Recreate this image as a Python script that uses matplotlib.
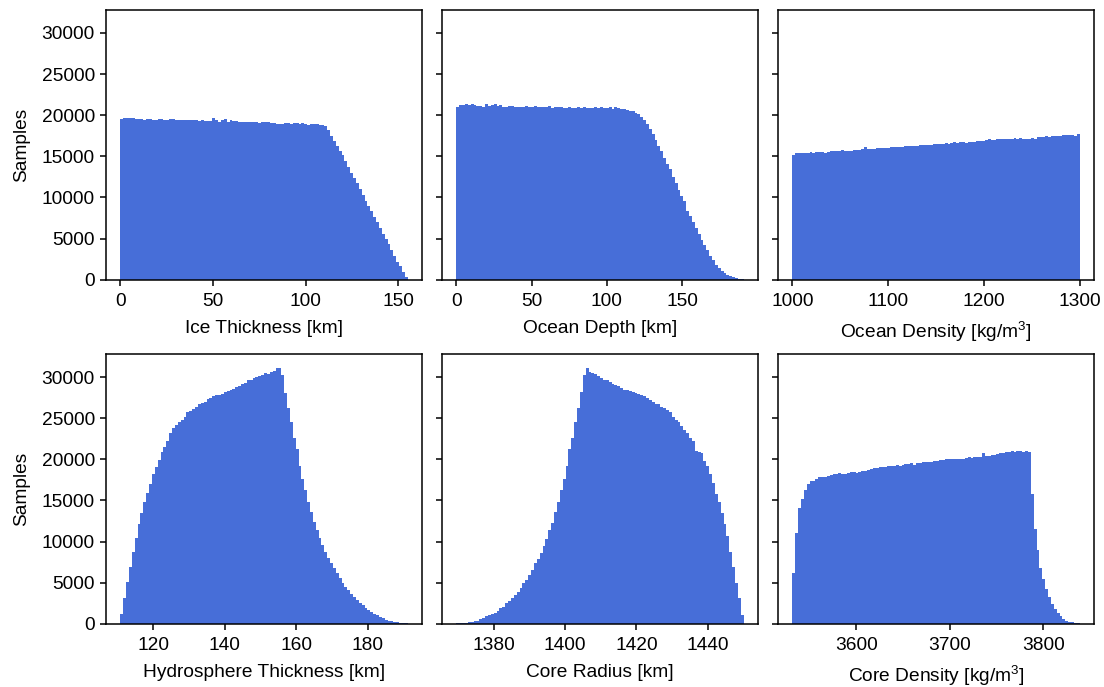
import matplotlib
matplotlib.use("Agg")
import matplotlib.pyplot as plt
import numpy as np

plt.rcParams['font.family'] = ['Liberation Sans', 'DejaVu Sans']
plt.rcParams['mathtext.fontset'] = 'custom'
plt.rcParams['mathtext.rm'] = 'Liberation Sans'
plt.rcParams['font.size'] = 13.8

# (min, max) of each histogram's bins, 100 bins per panel
ice_range = (0.0, 155.0)
ocean_depth_range = (0.0, 191.0)
ocean_density_range = (1000.0, 1300.0)
hydro_range = (110.8, 191.2)
core_radius_range = (1369.5, 1450.1)
core_density_range = (3531.4, 3839.0)

ice_counts = [
    19500, 19650, 19700, 19680, 19600, 19550, 19500, 19520, 19450, 19480,
    19500, 19450, 19420, 19480, 19500, 19460, 19430, 19480, 19520, 19450,
    19400, 19430, 19380, 19450, 19420, 19350, 19380, 19300, 19350, 19320,
    19280, 19300, 19700, 19350, 19150, 19450, 19480, 19200, 19380, 19250,
    19300, 19200, 19150, 19220, 19180, 19130, 19200, 19180, 19100, 19150,
    19200, 19150, 19100, 19050, 18900, 18950, 18920, 19000, 19050, 18980,
    19100, 19050, 18950, 19000, 18980, 18850, 18900, 18870, 18930, 18800,
    18850, 18650, 18200, 17500, 16900, 16300, 15700, 15100, 14400, 13700,
    12950, 12350, 11700, 11000, 10250, 9600, 8900, 8300, 7600, 7000,
    6250, 5600, 4900, 4300, 3550, 2900, 2200, 1600, 950, 300,
]

ocean_depth_counts = [
    21000, 21200, 21250, 21300, 21250, 21350, 21200, 21100, 21150, 21050,
    21300, 21150, 21200, 21350, 21100, 21200, 21000, 21050, 21150, 21100,
    21000, 20950, 21050, 21000, 21100, 21000, 21050, 21150, 21000, 20950,
    21000, 20950, 21100, 20900, 20950, 21050, 21000, 20850, 20900, 20950,
    20900, 20850, 21000, 20900, 20950, 20850, 20900, 20850, 20950, 20900,
    21000, 20850, 20900, 20950, 20800, 21000, 20850, 20700, 20750, 20650,
    20550, 20450, 20300, 20150, 19800, 19400, 18900, 18300, 17700, 17000,
    16300, 15600, 14800, 14100, 13400, 12500, 11700, 10900, 10200, 9600,
    8400, 7700, 7000, 6300, 5600, 4800, 4200, 3600, 2900, 2350,
    1800, 1400, 1050, 800, 600, 430, 300, 170, 90, 30,
]

ocean_density_counts = [
    15150, 15380, 15420, 15400, 15450, 15420, 15480, 15450, 15500, 15480,
    15500, 15420, 15550, 15600, 15620, 15580, 15700, 15750, 15650, 15620,
    15700, 15750, 15720, 15800, 15850, 16080, 15900, 15880, 15920, 15950,
    15950, 16000, 16050, 16020, 16100, 16080, 16150, 16120, 16180, 16200,
    16220, 16250, 16300, 16280, 16350, 16320, 16400, 16380, 16420, 16480,
    16500, 16450, 16550, 16600, 16550, 16650, 16700, 16620, 16680, 16750,
    16650, 16700, 16750, 16700, 16800, 16850, 16900, 16950, 17050, 17000,
    16980, 17050, 17100, 17050, 17150, 17100, 17120, 17180, 17150, 17200,
    17100, 17050, 17150, 17200, 17150, 17350, 17400, 17380, 17420, 17400,
    17450, 17480, 17500, 17450, 17580, 17600, 17550, 17620, 17500, 17700,
]

hydro_counts = [
    1170, 3100, 5040, 6940, 8750, 10480, 12180, 13510, 14800, 15930,
    17020, 18220, 19110, 19920, 20850, 21450, 22180, 23260, 23790, 24190,
    24600, 24760, 25160, 25800, 25880, 26090, 26370, 26690, 26890, 26950,
    27300, 27500, 27700, 27820, 27850, 27980, 28220, 28300, 28430, 28590,
    28790, 28870, 29110, 29310, 29590, 29680, 29840, 30000, 30120, 30240,
    30520, 30320, 30560, 30720, 31050, 31100, 30240, 28100, 26290, 24550,
    22580, 21250, 19230, 17620, 16290, 14800, 13590, 12380, 11370, 10440,
    9560, 8750, 8060, 7340, 6730, 6130, 5520, 5000, 4520, 4110,
    3630, 3230, 2900, 2580, 2260, 1980, 1690, 1450, 1210, 1010,
    810, 650, 520, 400, 320, 240, 160, 120, 80, 40,
]

core_radius_counts = [
    40, 80, 80, 120, 160, 240, 320, 400, 560, 690,
    890, 1010, 1170, 1330, 1610, 1900, 2100, 2500, 2820, 3100,
    3510, 3910, 4400, 4920, 5320, 5890, 6530, 7340, 7940, 8670,
    9480, 10360, 11370, 12300, 13590, 14800, 16210, 17620, 19230, 21250,
    22580, 24550, 26290, 28180, 30240, 31050, 30640, 30480, 30400, 30080,
    29840, 29680, 29590, 29350, 29110, 29030, 28870, 28710, 28470, 28390,
    28300, 28140, 28060, 27900, 27820, 27700, 27500, 27260, 27010, 26770,
    26690, 26370, 26210, 25970, 25760, 25160, 24760, 24520, 24070, 23550,
    23260, 22580, 22180, 21050, 20930, 20720, 19840, 19230, 18220, 17100,
    15810, 14800, 13470, 12180, 10640, 8750, 6940, 5000, 3100, 1090,
]

core_density_counts = [
    6130, 11050, 14030, 15200, 16290, 17020, 17340, 17420, 17620, 17820,
    17800, 17900, 18020, 18100, 18220, 18200, 18300, 18240, 18210, 18300,
    18430, 18410, 18300, 18430, 18550, 18630, 18710, 18830, 18950, 18930,
    19030, 19110, 19090, 19150, 19230, 19210, 19310, 19230, 19290, 19430,
    19410, 19510, 19350, 19500, 19600, 19640, 19720, 19700, 19730, 19840,
    19820, 19920, 19900, 20000, 19980, 20040, 20020, 20050, 20080, 20070,
    20120, 20240, 20220, 20280, 20240, 20320, 20720, 20400, 20440, 20480,
    20560, 20640, 20800, 20780, 20890, 20870, 20970, 20950, 20980, 20960,
    20930, 20970, 20940, 15810, 11570, 8950, 6810, 5400, 4190, 3310,
    2420, 1770, 1290, 890, 560, 360, 240, 160, 80, 40,
]

panels = [
    (ice_range, ice_counts, "Ice Thickness [km]", [0, 50, 100, 150]),
    (ocean_depth_range, ocean_depth_counts, "Ocean Depth [km]", [0, 50, 100, 150]),
    (ocean_density_range, ocean_density_counts, r"Ocean Density [$\mathrm{kg/m^3}$]",
     [1000, 1100, 1200, 1300]),
    (hydro_range, hydro_counts, "Hydrosphere Thickness [km]", [120, 140, 160, 180]),
    (core_radius_range, core_radius_counts, "Core Radius [km]", [1380, 1400, 1420, 1440]),
    (core_density_range, core_density_counts, r"Core Density [$\mathrm{kg/m^3}$]",
     [3600, 3700, 3800]),
]

color = '#476ed8'

fig, axes = plt.subplots(2, 3, figsize=(11.04, 6.87), dpi=100, sharey=True)
fig.subplots_adjust(left=0.096, right=0.991, top=0.985, bottom=0.092,
                    wspace=0.063, hspace=0.278)

for ax, (rng, counts, label, ticks) in zip(axes.flat, panels):
    edges = np.linspace(rng[0], rng[1], len(counts) + 1)
    ax.stairs(counts, edges, fill=True, color=color)
    ax.set_xlabel(label, labelpad=7)
    ax.set_xticks(ticks)
    ax.margins(x=0.05)
    for s in ax.spines.values():
        s.set_linewidth(1.1)
    ax.tick_params(width=1.1, length=4.5)
    ax.tick_params(axis='x', pad=5)

axes[0, 0].set_ylim(0, 32750)
axes[0, 0].set_yticks(range(0, 30001, 5000))
axes[0, 0].set_ylabel("Samples", labelpad=8)
axes[1, 0].set_ylabel("Samples", labelpad=8)

fig.savefig("out.png", dpi=100)
